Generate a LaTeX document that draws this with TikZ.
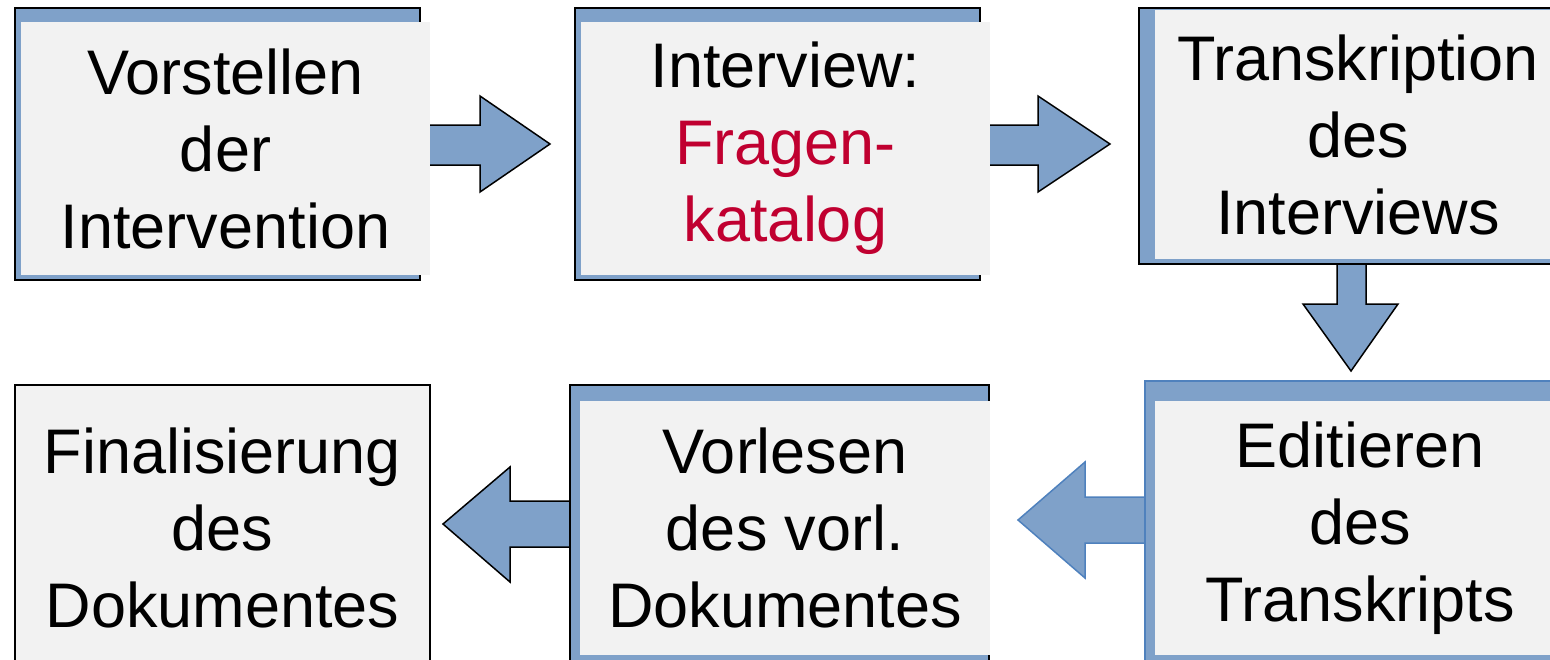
\documentclass[tikz,border=0pt]{standalone}
\usepackage{fontspec}
\setmainfont{Liberation Sans}

\definecolor{boxgray}{RGB}{242,242,242}
\definecolor{boxblue}{RGB}{127,161,201}
\definecolor{edgeblue}{RGB}{79,129,189}
\definecolor{fragred}{RGB}{192,0,48}

\tikzset{
  backbox/.style={rectangle, fill=boxblue, draw=black, line width=2pt, inner sep=0pt},
  backblue/.style={rectangle, fill=boxblue, draw=edgeblue, line width=1.5pt, inner sep=0pt},
  graybox/.style={rectangle, fill=boxgray, inner sep=0pt, align=center,
    font=\fontsize{63}{77}\selectfont},
  arrowshape/.style={fill=boxblue, draw=black, line width=1.5pt, line join=miter},
}

\begin{document}
\begin{tikzpicture}[x=1pt,y=-1pt]
    \useasboundingbox (0,0) rectangle (1550,659);
    \clip (0,0) rectangle (1550,659);
    %% Draw the arrows (under the boxes)
    \draw[arrowshape] (425,125) -- (480,125) -- (480,96) -- (550,144)
      -- (480,192) -- (480,165) -- (425,165) -- cycle;
    \draw[arrowshape] (985,125) -- (1038,125) -- (1038,96) -- (1110,144)
      -- (1038,192) -- (1038,165) -- (985,165) -- cycle;
    \draw[arrowshape] (1337,255) -- (1337,304) -- (1303,304) -- (1351,371)
      -- (1398,304) -- (1366,304) -- (1366,255) -- cycle;
    \draw[arrowshape, draw=edgeblue] (1150,497) -- (1085,497) -- (1085,462) -- (1018,520)
      -- (1085,578) -- (1085,543) -- (1150,543) -- cycle;
    \draw[arrowshape] (575,501) -- (510,501) -- (510,467) -- (443,524)
      -- (510,582) -- (510,547) -- (575,547) -- cycle;
    %% Draw the blue frames
    \node[backbox, minimum width=405pt, minimum height=272pt] (vorstellen-back) at (217.5,144) {};
    \node[backbox, minimum width=405pt, minimum height=272pt] (interview-back) at (777.5,144) {};
    \node[backbox, minimum width=431pt, minimum height=256pt] (transkription-back) at (1354.5,136) {};
    \node[backblue, minimum width=425pt, minimum height=299pt] (editieren-back) at (1357.5,530.5) {};
    \node[backbox, minimum width=419pt, minimum height=295pt] (vorlesen-back) at (779.5,532.5) {};
    %% Draw the nodes
    \node[graybox, minimum width=409pt, minimum height=253pt] (vorstellen) at (225.5,148.5)
      {Vorstellen\\der\\Intervention};
    \node[graybox, minimum width=409pt, minimum height=253pt] (interview) at (785.5,148.5)
      {Interview:\\\textcolor{fragred}{Fragen-}\\\textcolor{fragred}{katalog}};
    \node[graybox, minimum width=406pt, minimum height=249pt] (transkription) at (1358,134.5)
      {Transkription\\des\\Interviews};
    \node[graybox, minimum width=410pt, minimum height=254pt] (editieren) at (1360,528)
      {Editieren\\des\\Transkripts};
    \node[graybox, minimum width=410pt, minimum height=254pt] (vorlesen) at (785,528)
      {Vorlesen\\des vorl.\\Dokumentes};
    \node[graybox, draw=black, line width=2pt, minimum width=415pt, minimum height=286pt]
      (finalisierung) at (222.5,528) {Finalisierung\\des\\Dokumentes};
  \end{tikzpicture}
\end{document}
